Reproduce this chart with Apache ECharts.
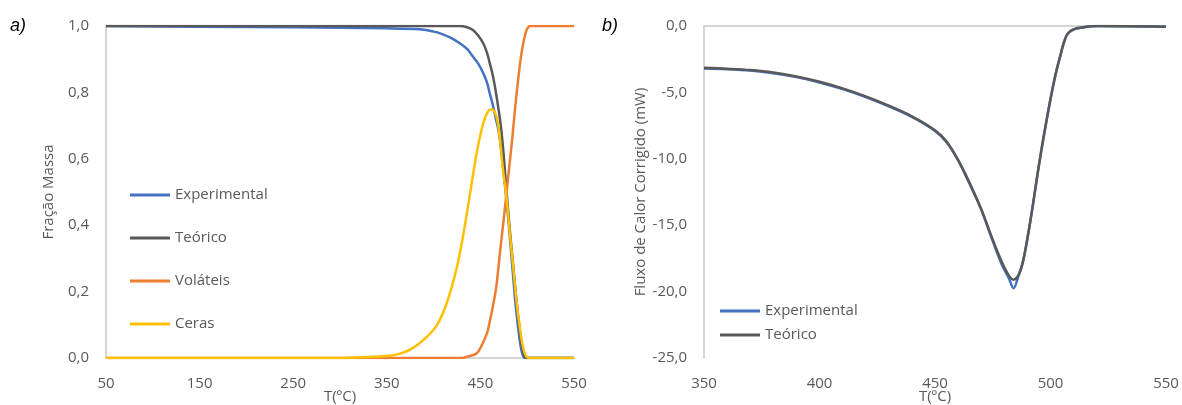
<!DOCTYPE html>
<html>
<head>
<meta charset="utf-8">
<script src="https://cdn.jsdelivr.net/npm/echarts@6/dist/echarts.min.js"></script>
<style>
  html, body { margin: 0; padding: 0; background: #fff; }
  #chart { width: 1182px; height: 405px; }
</style>
</head>
<body>
<div id="chart"></div>
<script>
// painel a) fração mássica
var expT = [50,150,250,350,385,400,407,418,428,436,442,448,453,457,460,463,466,469,471,474,478,481,485,488,492,495,498,550];
var expV = [1.0,0.998,0.996,0.993,0.99,0.983,0.978,0.965,0.948,0.93,0.908,0.885,0.858,0.83,0.797,0.765,0.727,0.69,0.655,0.58,0.47,0.38,0.245,0.15,0.054,0.01,0,0];

var teoT = [50,428,435,442,448,453,457,460,463,466,471,474,478,481,485,489,493,496,499,550];
var teoV = [1,1,0.997,0.988,0.97,0.948,0.92,0.888,0.855,0.81,0.717,0.64,0.5,0.4,0.28,0.16,0.065,0.015,0,0];

var volT = [50,430,436,446,450,457,460,464,467,471,475,478,481,484,487,490,493,496,499,503,550];
var volV = [0,0,0.004,0.014,0.03,0.074,0.11,0.165,0.215,0.32,0.42,0.5,0.58,0.66,0.75,0.83,0.9,0.95,0.985,1,1];

var cerT = [50,300,330,353,365,375,389,403,414,425,432,439,446,453,458,462,467,470,474,478,481,485,489,492,495,498,502,550];
var cerV = [0,0,0.003,0.007,0.014,0.025,0.054,0.097,0.165,0.275,0.376,0.496,0.617,0.707,0.742,0.749,0.728,0.68,0.57,0.48,0.39,0.275,0.16,0.094,0.04,0.01,0,0];

// painel b) fluxo de calor
var dscT = [350,360,370,380,390,400,410,420,430,440,450,455,460,465,470,475,479,482,484,486,488,490,492,494,496,498,500,502,504,507,510,515,520,550];
var dscTeo = [-3.15,-3.22,-3.32,-3.5,-3.8,-4.2,-4.7,-5.3,-6.0,-6.8,-7.85,-8.7,-10.1,-11.9,-13.8,-16.1,-17.8,-18.8,-19.1,-18.8,-17.8,-16.0,-13.9,-11.6,-9.4,-7.4,-5.5,-3.8,-2.4,-0.7,-0.25,-0.08,0,-0.05];
var dscExp = [-3.2,-3.25,-3.35,-3.55,-3.85,-4.25,-4.75,-5.35,-6.05,-6.85,-7.9,-8.75,-10.1,-11.8,-13.8,-16.2,-18.0,-19.0,-19.75,-18.9,-17.8,-16.0,-13.9,-11.6,-9.4,-7.4,-5.5,-3.8,-2.4,-0.7,-0.25,-0.08,0,-0.05];

var cBlue = '#4472C4', cGray = '#595959', cOrange = '#ED7D31', cYellow = '#FFC000';
var txt = '#595959', axisCol = '#C8C8C8';
var fontFam = 'Open Sans';

function zip(xs, ys) {
    var out = [];
    for (var i = 0; i < xs.length; i++) out.push([xs[i], ys[i]]);
    return out;
}
function comma(v) { return v.toFixed(1).replace('.', ','); }

function xAx(idx, mn, mx, step) {
    return {
        type: 'value', gridIndex: idx, min: mn, max: mx, interval: step,
        name: 'T(ºC)', nameLocation: 'middle', nameGap: 31, nameMoveOverlap: false,
        nameTextStyle: { color: txt, fontSize: 15, fontFamily: fontFam },
        axisLine: { show: true, lineStyle: { color: axisCol, width: 1.5 } },
        axisTick: { show: false }, splitLine: { show: false },
        axisLabel: { color: txt, fontSize: 15, fontFamily: fontFam, margin: 18 }
    };
}
function yAx(idx, mn, mx, step, nm, gap, lblGap) {
    return {
        type: 'value', gridIndex: idx, min: mn, max: mx, interval: step,
        name: nm, nameLocation: 'middle', nameGap: gap,
        nameTextStyle: { color: txt, fontSize: 15, fontFamily: fontFam },
        axisLine: { show: true, lineStyle: { color: axisCol, width: 1.5 } },
        axisTick: { show: false }, splitLine: { show: false },
        axisLabel: { color: txt, fontSize: 15, fontFamily: fontFam, margin: lblGap, formatter: comma }
    };
}
function line(nm, col, xi, data) {
    return {
        name: nm, type: 'line', xAxisIndex: xi, yAxisIndex: xi,
        data: data, showSymbol: false, smooth: 0.35,
        lineStyle: { color: col, width: 2.5 }, itemStyle: { color: col },
        animation: false
    };
}

var chart = echarts.init(document.getElementById('chart'));
var option = {
    backgroundColor: '#fff',
    grid: [
        { left: 106, right: 608, top: 26, bottom: 47, outerBoundsMode: 'none' },
        { left: 704, right: 16, top: 26, bottom: 47, outerBoundsMode: 'none' }
    ],
    xAxis: [xAx(0, 50, 550, 100), xAx(1, 350, 550, 50)],
    yAxis: [
        yAx(0, 0, 1, 0.2, 'Fração Massa', 50, 17),
        yAx(1, -25, 0, 5, 'Fluxo de Calor Corrigido (mW)', 48, 17)
    ],
    legend: [
        {
            data: ['Experimental', 'Teórico', 'Voláteis', 'Ceras'],
            orient: 'vertical', left: 130, top: 187, itemGap: 27, padding: 0,
            icon: 'rect', itemWidth: 40, itemHeight: 3,
            textStyle: { color: txt, fontSize: 15, fontFamily: fontFam, lineHeight: 16 }
        },
        {
            data: ['Experimental', 'Teórico'],
            orient: 'vertical', left: 720, top: 303, itemGap: 8, padding: 0,
            icon: 'rect', itemWidth: 40, itemHeight: 3,
            textStyle: { color: txt, fontSize: 15, fontFamily: fontFam, lineHeight: 16 }
        }
    ],
    graphic: [
        { type: 'text', left: 10, top: 17, style: { text: 'a)', fontSize: 18, fontStyle: 'italic', fontFamily: 'Liberation Sans', fill: '#000' } },
        { type: 'text', left: 602, top: 17, style: { text: 'b)', fontSize: 18, fontStyle: 'italic', fontFamily: 'Liberation Sans', fill: '#000' } }
    ],
    series: [
        line('Experimental', cBlue, 0, zip(expT, expV)),
        line('Teórico', cGray, 0, zip(teoT, teoV)),
        line('Voláteis', cOrange, 0, zip(volT, volV)),
        line('Ceras', cYellow, 0, zip(cerT, cerV)),
        line('Experimental', cBlue, 1, zip(dscT, dscExp)),
        line('Teórico', cGray, 1, zip(dscT, dscTeo))
    ]
};
chart.setOption(option);
</script>
</body>
</html>
